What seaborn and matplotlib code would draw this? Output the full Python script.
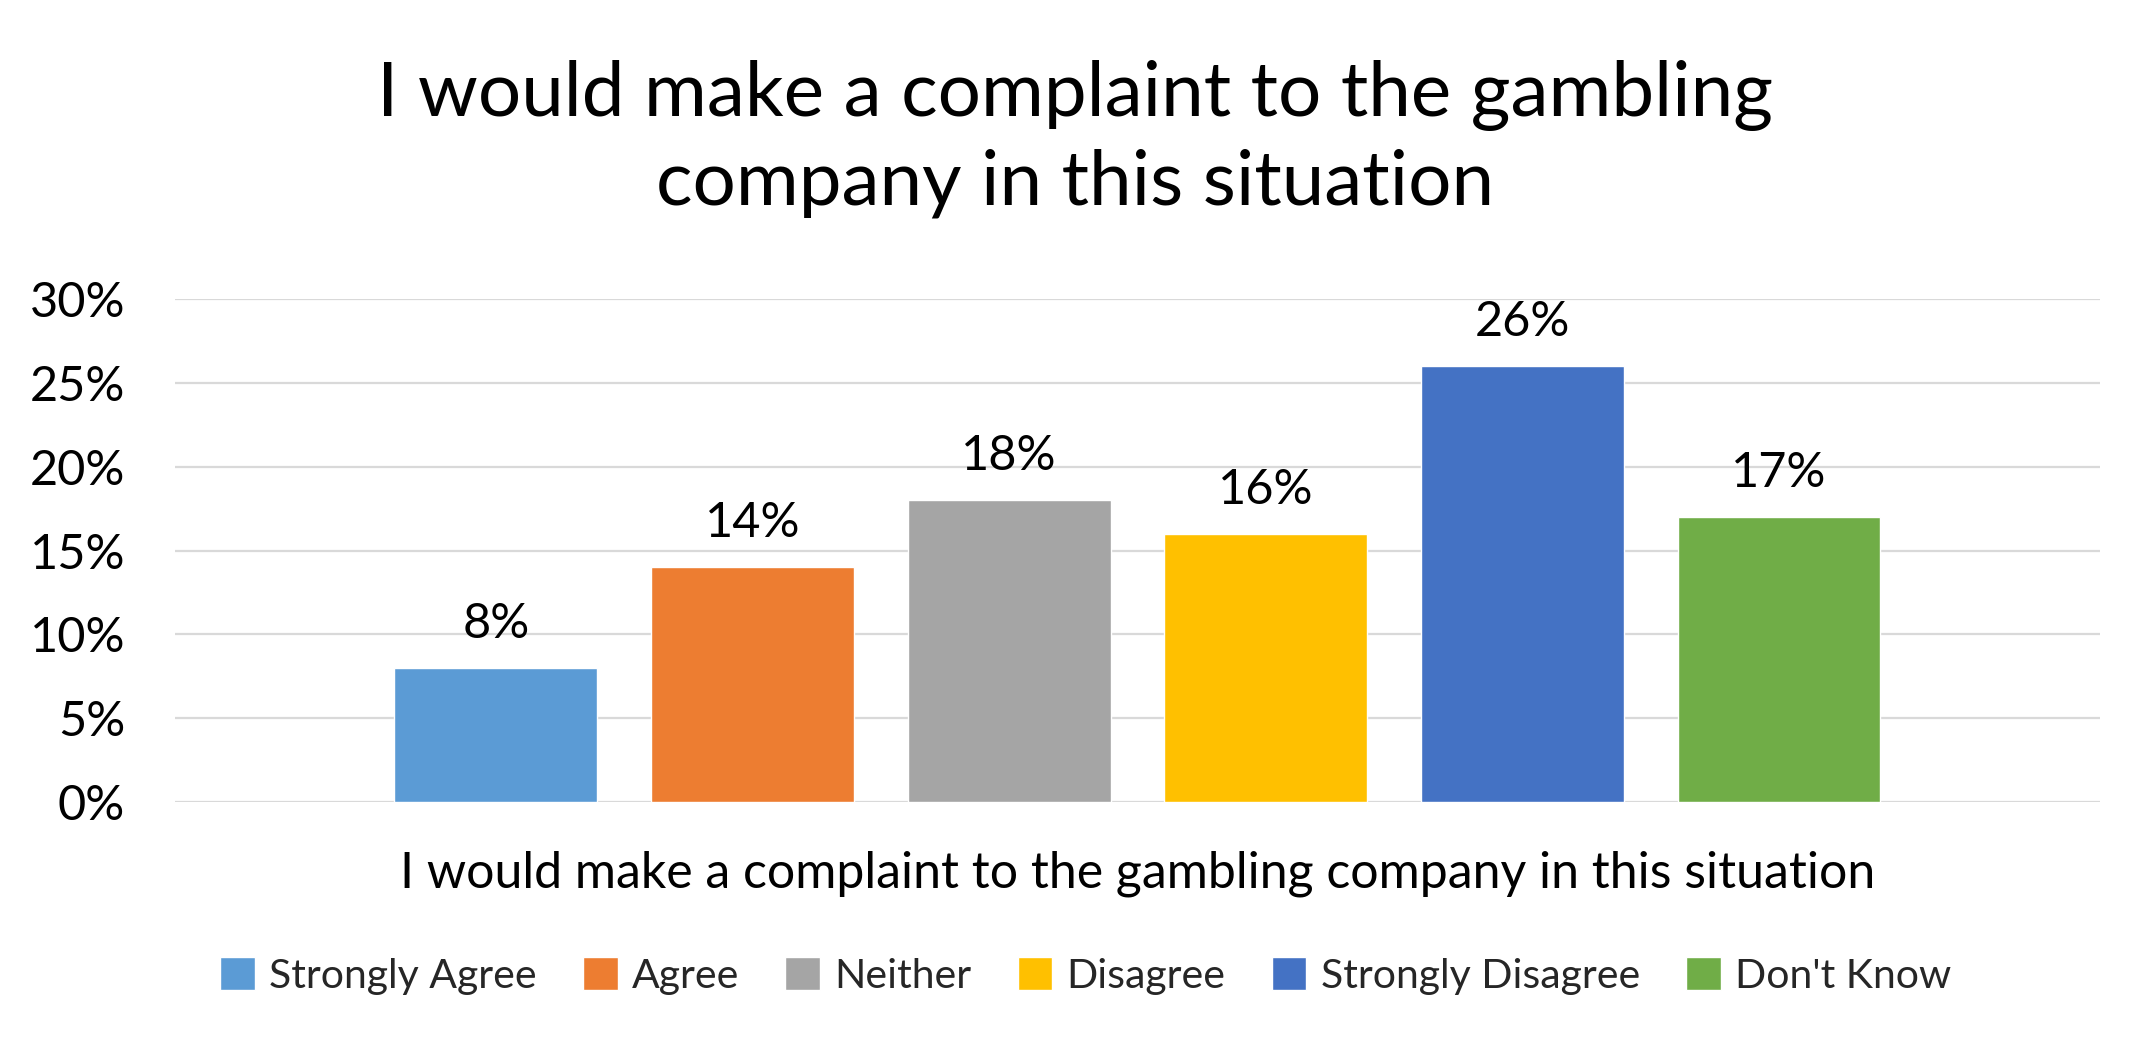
import matplotlib
matplotlib.use("Agg")
import matplotlib.pyplot as plt
import pandas as pd
import seaborn as sns
from matplotlib.ticker import PercentFormatter

question = "I would make a complaint to the gambling company in this situation"
responses = ["Strongly Agree", "Agree", "Neither", "Disagree",
             "Strongly Disagree", "Don't Know"]
shares = [8, 14, 18, 16, 26, 17]
colors = ["#5B9BD5", "#ED7D31", "#A5A5A5", "#FFC000", "#4472C4", "#70AD47"]
title = "I would make a complaint to the gambling\ncompany in this situation"

df = pd.DataFrame({"question": [question] * len(responses),
                   "response": responses,
                   "share": shares})

sns.set_theme(style="whitegrid")
plt.rcParams["font.family"] = ["Lato", "DejaVu Sans"]

fig = plt.figure(figsize=(21.5, 10.45), dpi=100)
ax = fig.add_axes([0.0814, 0.2325, 0.8953, 0.4814])

sns.barplot(data=df, x="question", y="share", hue="response",
            hue_order=responses, palette=colors, saturation=1,
            width=0.8, gap=0.21, ax=ax, legend=True)

ax.set_ylim(0, 30)
ax.set_yticks(range(0, 31, 5))
ax.yaxis.set_major_formatter(PercentFormatter(decimals=0))
ax.set_xlabel("")
ax.set_ylabel("")
ax.grid(axis="y", color="#D9D9D9", linewidth=1.6)
ax.grid(axis="x", visible=False)
ax.set_axisbelow(True)
for s in ax.spines.values():
    s.set_visible(False)
ax.tick_params(axis="y", length=0, pad=36, labelsize=35, labelcolor="black")
ax.tick_params(axis="x", length=0, pad=35, labelsize=36, labelcolor="black")

for cont in ax.containers:
    ax.bar_label(cont, fmt="%g%%", padding=16, fontsize=35, color="black")

handles, labels = ax.get_legend_handles_labels()
ax.get_legend().remove()
fig.legend(handles, labels, loc="center", bbox_to_anchor=(0.505, 1 - 976 / 1045),
           ncol=6, frameon=False, fontsize=29.5, handlelength=0.85,
           handleheight=0.85, handletextpad=0.35, columnspacing=1.12)

fig.text(0.5, 1 - 139 / 1045, title, ha="center", va="center",
         fontsize=55, linespacing=1.3, color="black")

fig.savefig("out.png", dpi=100, facecolor="white")
